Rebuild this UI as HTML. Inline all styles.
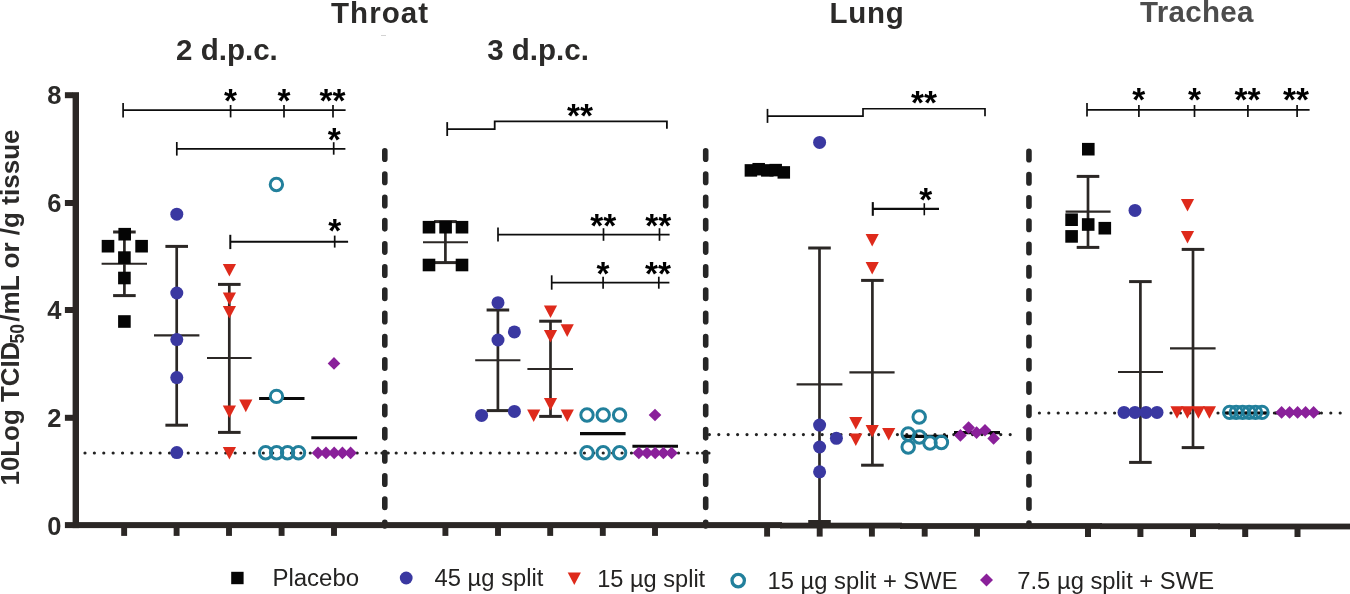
<!DOCTYPE html>
<html lang="en">
<head>
<meta charset="utf-8">
<title>Virus titres in throat, lung and trachea</title>
<style>
html,body{margin:0;padding:0;background:#ffffff;}
body{width:1350px;height:594px;overflow:hidden;}
svg{display:block;font-family:"Liberation Sans",sans-serif;will-change:transform;}
</style>
</head>
<body>
<svg width="1350" height="594" viewBox="0 0 1350 594">
<rect x="0" y="0" width="1350" height="594" fill="#ffffff"/>
<line x1="85" y1="453" x2="380" y2="453" stroke="#222222" stroke-width="3.2" stroke-linecap="round" stroke-dasharray="0 9.385"/>
<line x1="396.2" y1="453" x2="700" y2="453" stroke="#222222" stroke-width="3.2" stroke-linecap="round" stroke-dasharray="0 9.41"/>
<circle cx="382" cy="453" r="1.6" fill="#222222"/>
<circle cx="388.2" cy="453" r="1.6" fill="#222222"/>
<circle cx="702.7" cy="453" r="1.6" fill="#222222"/>
<circle cx="709" cy="453" r="1.6" fill="#222222"/>
<line x1="709.4" y1="434.6" x2="1019" y2="434.6" stroke="#222222" stroke-width="3.2" stroke-linecap="round" stroke-dasharray="0 9.4"/>
<line x1="1039.4" y1="413" x2="1341" y2="413" stroke="#222222" stroke-width="3.2" stroke-linecap="round" stroke-dasharray="0 9.4"/>
<line x1="384.8" y1="150.8" x2="384.8" y2="526" stroke="#262626" stroke-width="5.6" stroke-linecap="round" stroke-dasharray="8.4 14.82"/>
<line x1="705.7" y1="150.8" x2="705.7" y2="526" stroke="#262626" stroke-width="5.6" stroke-linecap="round" stroke-dasharray="8.4 14.82"/>
<line x1="1028.95" y1="151.4" x2="1028.95" y2="526" stroke="#262626" stroke-width="5.6" stroke-linecap="round" stroke-dasharray="8.4 14.83"/>
<rect x="72.6" y="92.2" width="6.4" height="435.9" fill="#2b2725"/>
<rect x="64.9" y="92.2" width="8.1" height="6" fill="#2b2725"/>
<rect x="64.9" y="200" width="8.1" height="6" fill="#2b2725"/>
<rect x="64.9" y="307" width="8.1" height="6" fill="#2b2725"/>
<rect x="64.9" y="414.8" width="8.1" height="6" fill="#2b2725"/>
<rect x="64.9" y="522.1" width="717.1" height="6" fill="#2b2725"/>
<rect x="780" y="522.7" width="122" height="5.8" fill="#2b2725"/>
<rect x="900" y="523.1" width="202" height="5.8" fill="#2b2725"/>
<rect x="1100" y="523.3" width="120" height="5.8" fill="#2b2725"/>
<rect x="1218" y="523.6" width="132" height="5.8" fill="#2b2725"/>
<rect x="121.2" y="526" width="5.9" height="9.9" fill="#2b2725"/>
<rect x="173.65" y="526" width="5.9" height="9.9" fill="#2b2725"/>
<rect x="226.05" y="526" width="5.9" height="9.9" fill="#2b2725"/>
<rect x="278.65" y="526" width="5.9" height="9.9" fill="#2b2725"/>
<rect x="331.05" y="526" width="5.9" height="9.9" fill="#2b2725"/>
<rect x="442.45" y="526" width="5.9" height="9.9" fill="#2b2725"/>
<rect x="495.05" y="526" width="5.9" height="9.9" fill="#2b2725"/>
<rect x="547.25" y="526" width="5.9" height="9.9" fill="#2b2725"/>
<rect x="599.85" y="526" width="5.9" height="9.9" fill="#2b2725"/>
<rect x="652.05" y="526" width="5.9" height="9.9" fill="#2b2725"/>
<rect x="764.15" y="526" width="5.9" height="10.6" fill="#2b2725"/>
<rect x="816.75" y="526" width="5.9" height="10.6" fill="#2b2725"/>
<rect x="868.95" y="526" width="5.9" height="10.6" fill="#2b2725"/>
<rect x="921.75" y="526" width="5.9" height="10.6" fill="#2b2725"/>
<rect x="974.05" y="526" width="5.9" height="10.6" fill="#2b2725"/>
<rect x="1085" y="527" width="6" height="10" fill="#2b2725"/>
<rect x="1137.4" y="527" width="6" height="10" fill="#2b2725"/>
<rect x="1190" y="527" width="6" height="10" fill="#2b2725"/>
<rect x="1242.2" y="527" width="6" height="10" fill="#2b2725"/>
<rect x="1294.5" y="527" width="6" height="10" fill="#2b2725"/>
<text x="61.4" y="104.3" font-size="25.5" font-weight="bold" fill="#2b2a29" text-anchor="end">8</text>
<text x="61.4" y="212.1" font-size="25.5" font-weight="bold" fill="#2b2a29" text-anchor="end">6</text>
<text x="61.4" y="319.1" font-size="25.5" font-weight="bold" fill="#2b2a29" text-anchor="end">4</text>
<text x="61.4" y="426.9" font-size="25.5" font-weight="bold" fill="#2b2a29" text-anchor="end">2</text>
<text x="61.4" y="534.5" font-size="25.5" font-weight="bold" fill="#2b2a29" text-anchor="end">0</text>
<text x="331" y="23" font-size="29.5" font-weight="bold" fill="#2b2a29" text-anchor="start" textLength="97.1" lengthAdjust="spacing">Throat</text>
<text x="829.5" y="23" font-size="29.5" font-weight="bold" fill="#2b2a29" text-anchor="start" textLength="74.3" lengthAdjust="spacing">Lung</text>
<text x="1140" y="22" font-size="29.5" font-weight="bold" fill="#4c4c4c" text-anchor="start" textLength="113.5" lengthAdjust="spacing">Trachea</text>
<text x="176.1" y="59.6" font-size="29.5" font-weight="bold" fill="#2b2a29" text-anchor="start">2 d.p.c.</text>
<text x="487.2" y="59.6" font-size="29.5" font-weight="bold" fill="#2b2a29" text-anchor="start">3 d.p.c.</text>
<rect x="381" y="35" width="5" height="0.9" fill="#cfcfcf"/>
<text transform="translate(19.0 485.5) rotate(-90)" font-size="26.3" font-weight="bold" fill="#2b2a29" textLength="143.8" lengthAdjust="spacingAndGlyphs">10Log TCID</text>
<text transform="translate(24.4 343.4) rotate(-90) scale(0.86 1)" font-size="20.3" font-weight="bold" fill="#2b2a29">50</text>
<text transform="translate(19.0 321.7) rotate(-90)" font-size="26.3" font-weight="bold" fill="#2b2a29" textLength="192.3" lengthAdjust="spacingAndGlyphs">/mL or /g tissue</text>
<line x1="123.1" y1="110.1" x2="345.6" y2="110.1" stroke="#0d0d0d" stroke-width="1.7"/>
<line x1="123.1" y1="103.1" x2="123.1" y2="117.6" stroke="#0d0d0d" stroke-width="1.7"/>
<line x1="230.6" y1="105" x2="230.6" y2="117.4" stroke="#0d0d0d" stroke-width="1.7"/>
<line x1="284" y1="105" x2="284" y2="117.4" stroke="#0d0d0d" stroke-width="1.7"/>
<line x1="333" y1="105" x2="333" y2="117.4" stroke="#0d0d0d" stroke-width="1.7"/>
<text transform="translate(230.6 112.014) scale(0.955 0.935)" font-size="35" font-weight="bold" fill="#000" text-anchor="middle">*</text>
<text transform="translate(284 112.014) scale(0.955 0.935)" font-size="35" font-weight="bold" fill="#000" text-anchor="middle">*</text>
<text transform="translate(332.6 112.014) scale(0.955 0.935)" font-size="35" font-weight="bold" fill="#000" text-anchor="middle">**</text>
<line x1="176.8" y1="148.8" x2="345.4" y2="148.8" stroke="#0d0d0d" stroke-width="1.7"/>
<line x1="176.8" y1="142" x2="176.8" y2="155.6" stroke="#0d0d0d" stroke-width="1.7"/>
<line x1="333.7" y1="142.2" x2="333.7" y2="154.7" stroke="#0d0d0d" stroke-width="1.7"/>
<text transform="translate(334.2 150.914) scale(0.955 0.935)" font-size="35" font-weight="bold" fill="#000" text-anchor="middle">*</text>
<line x1="230.3" y1="241.8" x2="348.1" y2="241.8" stroke="#0d0d0d" stroke-width="2"/>
<line x1="230.3" y1="234.8" x2="230.3" y2="249.1" stroke="#0d0d0d" stroke-width="2"/>
<line x1="334.7" y1="235.6" x2="334.7" y2="247.6" stroke="#0d0d0d" stroke-width="1.7"/>
<text transform="translate(334.8 242.414) scale(0.955 0.935)" font-size="35" font-weight="bold" fill="#000" text-anchor="middle">*</text>
<line x1="447.2" y1="122.1" x2="447.2" y2="136" stroke="#0d0d0d" stroke-width="1.8"/>
<polyline points="447.2,129.2 494.7,129.2 494.7,121.4 666.9,121.4 666.9,128.7" fill="none" stroke="#0d0d0d" stroke-width="1.8" stroke-linejoin="miter"/>
<text transform="translate(580 127.414) scale(0.955 0.935)" font-size="35" font-weight="bold" fill="#000" text-anchor="middle">**</text>
<line x1="498" y1="234.6" x2="669.6" y2="234.6" stroke="#0d0d0d" stroke-width="1.7"/>
<line x1="498" y1="227.5" x2="498" y2="241.6" stroke="#0d0d0d" stroke-width="1.7"/>
<line x1="603.5" y1="228.2" x2="603.5" y2="240.8" stroke="#0d0d0d" stroke-width="1.7"/>
<line x1="659.5" y1="228.2" x2="659.5" y2="240.8" stroke="#0d0d0d" stroke-width="1.7"/>
<text transform="translate(603.3 236.914) scale(0.955 0.935)" font-size="35" font-weight="bold" fill="#000" text-anchor="middle">**</text>
<text transform="translate(658.3 236.914) scale(0.955 0.935)" font-size="35" font-weight="bold" fill="#000" text-anchor="middle">**</text>
<line x1="551.7" y1="282.7" x2="669.4" y2="282.7" stroke="#0d0d0d" stroke-width="1.7"/>
<line x1="551.7" y1="275.3" x2="551.7" y2="289.7" stroke="#0d0d0d" stroke-width="1.7"/>
<line x1="603.1" y1="276.7" x2="603.1" y2="288.7" stroke="#0d0d0d" stroke-width="1.7"/>
<line x1="658.8" y1="276.7" x2="658.8" y2="288.7" stroke="#0d0d0d" stroke-width="1.7"/>
<text transform="translate(603.1 284.814) scale(0.955 0.935)" font-size="35" font-weight="bold" fill="#000" text-anchor="middle">*</text>
<text transform="translate(657.9 284.814) scale(0.955 0.935)" font-size="35" font-weight="bold" fill="#000" text-anchor="middle">**</text>
<line x1="767.5" y1="108.9" x2="767.5" y2="122.9" stroke="#0d0d0d" stroke-width="1.7"/>
<polyline points="767.5,116.1 863,116.1 863,108.75 985,108.75 985,116.2" fill="none" stroke="#0d0d0d" stroke-width="1.7" stroke-linejoin="miter"/>
<text transform="translate(924 114.014) scale(0.955 0.935)" font-size="35" font-weight="bold" fill="#000" text-anchor="middle">**</text>
<line x1="872.8" y1="208.9" x2="939" y2="208.9" stroke="#0d0d0d" stroke-width="2.1"/>
<line x1="872.8" y1="202.1" x2="872.8" y2="215.8" stroke="#0d0d0d" stroke-width="2.1"/>
<line x1="924.3" y1="203.2" x2="924.3" y2="215.3" stroke="#0d0d0d" stroke-width="1.6"/>
<text transform="translate(925.7 210.914) scale(0.955 0.935)" font-size="35" font-weight="bold" fill="#000" text-anchor="middle">*</text>
<line x1="1087" y1="109.85" x2="1309.6" y2="109.85" stroke="#0d0d0d" stroke-width="1.7"/>
<line x1="1087" y1="103.1" x2="1087" y2="116.6" stroke="#0d0d0d" stroke-width="1.7"/>
<line x1="1138.9" y1="105" x2="1138.9" y2="117" stroke="#0d0d0d" stroke-width="1.7"/>
<line x1="1194.5" y1="105" x2="1194.5" y2="117" stroke="#0d0d0d" stroke-width="1.7"/>
<line x1="1247.9" y1="105" x2="1247.9" y2="117" stroke="#0d0d0d" stroke-width="1.7"/>
<line x1="1297.1" y1="105" x2="1297.1" y2="117" stroke="#0d0d0d" stroke-width="1.7"/>
<text transform="translate(1138.7 111.414) scale(0.955 0.935)" font-size="35" font-weight="bold" fill="#000" text-anchor="middle">*</text>
<text transform="translate(1194.4 111.414) scale(0.955 0.935)" font-size="35" font-weight="bold" fill="#000" text-anchor="middle">*</text>
<text transform="translate(1247.6 110.614) scale(0.955 0.935)" font-size="35" font-weight="bold" fill="#000" text-anchor="middle">**</text>
<text transform="translate(1296 110.614) scale(0.955 0.935)" font-size="35" font-weight="bold" fill="#000" text-anchor="middle">**</text>
<line x1="124.4" y1="232" x2="124.4" y2="295.6" stroke="#2b2725" stroke-width="2.7"/>
<line x1="113.1" y1="232" x2="135.7" y2="232" stroke="#2b2725" stroke-width="3"/>
<line x1="113.1" y1="295.6" x2="135.7" y2="295.6" stroke="#2b2725" stroke-width="3"/>
<line x1="101.6" y1="263.8" x2="147" y2="263.8" stroke="#2b2725" stroke-width="2.1"/>
<rect x="101.7" y="239.9" width="12.6" height="12.6" fill="#050505"/>
<rect x="135.3" y="239.9" width="12.6" height="12.6" fill="#050505"/>
<rect x="118.4" y="227.9" width="12.6" height="12.6" fill="#050505"/>
<rect x="118.1" y="251.3" width="12.6" height="12.6" fill="#050505"/>
<rect x="118.1" y="271.7" width="12.6" height="12.6" fill="#050505"/>
<rect x="118.1" y="315.2" width="12.6" height="12.6" fill="#050505"/>
<line x1="176.7" y1="246.4" x2="176.7" y2="425.2" stroke="#2b2725" stroke-width="2.7"/>
<line x1="165.4" y1="246.4" x2="188" y2="246.4" stroke="#2b2725" stroke-width="3"/>
<line x1="165.4" y1="425.2" x2="188" y2="425.2" stroke="#2b2725" stroke-width="3"/>
<line x1="154" y1="335.4" x2="199.4" y2="335.4" stroke="#2b2725" stroke-width="2.1"/>
<circle cx="176.8" cy="214.2" r="6.5" fill="#3a38a1"/>
<circle cx="176.8" cy="293" r="6.5" fill="#3a38a1"/>
<circle cx="176.8" cy="339.6" r="6.5" fill="#3a38a1"/>
<circle cx="176.8" cy="377.6" r="6.5" fill="#3a38a1"/>
<circle cx="176.8" cy="452.6" r="6.5" fill="#3a38a1"/>
<line x1="229.3" y1="284.4" x2="229.3" y2="432.4" stroke="#2b2725" stroke-width="2.7"/>
<line x1="218" y1="284.4" x2="240.6" y2="284.4" stroke="#2b2725" stroke-width="3"/>
<line x1="218" y1="432.4" x2="240.6" y2="432.4" stroke="#2b2725" stroke-width="3"/>
<line x1="207" y1="358" x2="251.6" y2="358" stroke="#2b2725" stroke-width="2.1"/>
<polygon points="222.8,264 236,264 229.4,276.6" fill="#de2a1b"/>
<polygon points="222.8,292.4 236,292.4 229.4,305" fill="#de2a1b"/>
<polygon points="222.8,306 236,306 229.4,318.6" fill="#de2a1b"/>
<polygon points="222.8,405.4 236,405.4 229.4,418" fill="#de2a1b"/>
<polygon points="239.2,399.6 252.4,399.6 245.8,412.2" fill="#de2a1b"/>
<polygon points="222.8,447 236,447 229.4,459.6" fill="#de2a1b"/>
<line x1="259.1" y1="398.5" x2="304.5" y2="398.5" stroke="#0a0a0a" stroke-width="3.1"/>
<circle cx="276.4" cy="184.5" r="6.2" fill="none" stroke="#22809c" stroke-width="3"/>
<circle cx="276.5" cy="396.4" r="6.2" fill="#ffffff" stroke="#22809c" stroke-width="3"/>
<circle cx="265.65" cy="452.8" r="6.2" fill="none" stroke="#22809c" stroke-width="3"/>
<circle cx="276.6" cy="452.8" r="6.2" fill="none" stroke="#22809c" stroke-width="3"/>
<circle cx="287.55" cy="452.8" r="6.2" fill="none" stroke="#22809c" stroke-width="3"/>
<circle cx="298.5" cy="452.8" r="6.2" fill="none" stroke="#22809c" stroke-width="3"/>
<line x1="311.3" y1="437.8" x2="357.1" y2="437.8" stroke="#0a0a0a" stroke-width="3.1"/>
<polygon points="327.7,363.4 334,357.1 340.3,363.4 334,369.7" fill="#8a209a"/>
<polygon points="311.7,452.9 318,446.6 324.3,452.9 318,459.2" fill="#8a209a"/>
<polygon points="319.7,452.9 326,446.6 332.3,452.9 326,459.2" fill="#8a209a"/>
<polygon points="327.9,452.9 334.2,446.6 340.5,452.9 334.2,459.2" fill="#8a209a"/>
<polygon points="336.1,452.9 342.4,446.6 348.7,452.9 342.4,459.2" fill="#8a209a"/>
<polygon points="344.3,452.9 350.6,446.6 356.9,452.9 350.6,459.2" fill="#8a209a"/>
<line x1="445.4" y1="221.6" x2="445.4" y2="262.6" stroke="#2b2725" stroke-width="2.7"/>
<line x1="434.1" y1="221.6" x2="456.7" y2="221.6" stroke="#2b2725" stroke-width="3"/>
<line x1="434.1" y1="262.6" x2="456.7" y2="262.6" stroke="#2b2725" stroke-width="3"/>
<line x1="423" y1="242.2" x2="468" y2="242.2" stroke="#2b2725" stroke-width="2.1"/>
<rect x="422.7" y="220.9" width="12.6" height="12.6" fill="#050505"/>
<rect x="439.3" y="220.9" width="12.6" height="12.6" fill="#050505"/>
<rect x="455.7" y="220.9" width="12.6" height="12.6" fill="#050505"/>
<rect x="422.7" y="258.7" width="12.6" height="12.6" fill="#050505"/>
<rect x="455.7" y="258.7" width="12.6" height="12.6" fill="#050505"/>
<line x1="497.9" y1="310" x2="497.9" y2="410.6" stroke="#2b2725" stroke-width="2.7"/>
<line x1="486.6" y1="310" x2="509.2" y2="310" stroke="#2b2725" stroke-width="3"/>
<line x1="486.6" y1="410.6" x2="509.2" y2="410.6" stroke="#2b2725" stroke-width="3"/>
<line x1="475.2" y1="360.2" x2="520.4" y2="360.2" stroke="#2b2725" stroke-width="2.1"/>
<circle cx="498" cy="302.7" r="6.5" fill="#3a38a1"/>
<circle cx="514.4" cy="331.9" r="6.5" fill="#3a38a1"/>
<circle cx="498" cy="340" r="6.5" fill="#3a38a1"/>
<circle cx="481.6" cy="415.4" r="6.5" fill="#3a38a1"/>
<circle cx="514.4" cy="411.4" r="6.5" fill="#3a38a1"/>
<line x1="550.5" y1="321.2" x2="550.5" y2="416.4" stroke="#2b2725" stroke-width="2.7"/>
<line x1="539.2" y1="321.2" x2="561.8" y2="321.2" stroke="#2b2725" stroke-width="3"/>
<line x1="539.2" y1="416.4" x2="561.8" y2="416.4" stroke="#2b2725" stroke-width="3"/>
<line x1="527.4" y1="369" x2="573" y2="369" stroke="#2b2725" stroke-width="2.1"/>
<polygon points="543.9,305.4 557.1,305.4 550.5,318" fill="#de2a1b"/>
<polygon points="560.6,324.3 573.8,324.3 567.2,336.9" fill="#de2a1b"/>
<polygon points="543.9,330 557.1,330 550.5,342.6" fill="#de2a1b"/>
<polygon points="543.9,398 557.1,398 550.5,410.6" fill="#de2a1b"/>
<polygon points="527.1,409.4 540.3,409.4 533.7,422" fill="#de2a1b"/>
<polygon points="560.7,409.4 573.9,409.4 567.3,422" fill="#de2a1b"/>
<line x1="580" y1="433.6" x2="625.6" y2="433.6" stroke="#0a0a0a" stroke-width="3.1"/>
<circle cx="587" cy="415" r="6.2" fill="none" stroke="#22809c" stroke-width="3"/>
<circle cx="587" cy="452.8" r="6.2" fill="none" stroke="#22809c" stroke-width="3"/>
<circle cx="603.2" cy="415" r="6.2" fill="none" stroke="#22809c" stroke-width="3"/>
<circle cx="603.2" cy="452.8" r="6.2" fill="none" stroke="#22809c" stroke-width="3"/>
<circle cx="619.6" cy="415" r="6.2" fill="none" stroke="#22809c" stroke-width="3"/>
<circle cx="619.6" cy="452.8" r="6.2" fill="none" stroke="#22809c" stroke-width="3"/>
<line x1="632.4" y1="446.2" x2="678" y2="446.2" stroke="#0a0a0a" stroke-width="3.1"/>
<polygon points="648.7,415 655,408.7 661.3,415 655,421.3" fill="#8a209a"/>
<polygon points="632.5,453 638.8,446.7 645.1,453 638.8,459.3" fill="#8a209a"/>
<polygon points="640.7,453 647,446.7 653.3,453 647,459.3" fill="#8a209a"/>
<polygon points="648.9,453 655.2,446.7 661.5,453 655.2,459.3" fill="#8a209a"/>
<polygon points="657.1,453 663.4,446.7 669.7,453 663.4,459.3" fill="#8a209a"/>
<polygon points="665.3,453 671.6,446.7 677.9,453 671.6,459.3" fill="#8a209a"/>
<rect x="744.65" y="164.15" width="12.5" height="12.5" fill="#050505"/>
<rect x="752.45" y="162.95" width="12.5" height="12.5" fill="#050505"/>
<rect x="761.05" y="164.15" width="12.5" height="12.5" fill="#050505"/>
<rect x="769.45" y="163.85" width="12.5" height="12.5" fill="#050505"/>
<rect x="777.55" y="166.15" width="12.5" height="12.5" fill="#050505"/>
<line x1="819.5" y1="248" x2="819.5" y2="521.5" stroke="#2b2725" stroke-width="2.7"/>
<line x1="808.2" y1="248" x2="830.8" y2="248" stroke="#2b2725" stroke-width="3"/>
<line x1="808.2" y1="521.5" x2="830.8" y2="521.5" stroke="#2b2725" stroke-width="3"/>
<line x1="796.6" y1="384.4" x2="842.4" y2="384.4" stroke="#2b2725" stroke-width="2.1"/>
<circle cx="819.6" cy="142.4" r="6.5" fill="#3a38a1"/>
<circle cx="819.6" cy="425.1" r="6.5" fill="#3a38a1"/>
<circle cx="836.4" cy="438.3" r="6.5" fill="#3a38a1"/>
<circle cx="819.6" cy="447" r="6.5" fill="#3a38a1"/>
<circle cx="819.6" cy="471.8" r="6.5" fill="#3a38a1"/>
<line x1="872.4" y1="280.4" x2="872.4" y2="465.2" stroke="#2b2725" stroke-width="2.7"/>
<line x1="861.1" y1="280.4" x2="883.7" y2="280.4" stroke="#2b2725" stroke-width="3"/>
<line x1="861.1" y1="465.2" x2="883.7" y2="465.2" stroke="#2b2725" stroke-width="3"/>
<line x1="849.4" y1="372.4" x2="894.6" y2="372.4" stroke="#2b2725" stroke-width="2.1"/>
<polygon points="865.6,234 878.8,234 872.2,246.6" fill="#de2a1b"/>
<polygon points="865.6,262 878.8,262 872.2,274.6" fill="#de2a1b"/>
<polygon points="849.2,417 862.4,417 855.8,429.6" fill="#de2a1b"/>
<polygon points="865.6,425 878.8,425 872.2,437.6" fill="#de2a1b"/>
<polygon points="882.1,428 895.3,428 888.7,440.6" fill="#de2a1b"/>
<polygon points="849.2,433.4 862.4,433.4 855.8,446" fill="#de2a1b"/>
<line x1="903" y1="436.4" x2="948" y2="436.4" stroke="#0a0a0a" stroke-width="3.1"/>
<circle cx="919.2" cy="417" r="6.25" fill="none" stroke="#22809c" stroke-width="3"/>
<circle cx="908.2" cy="434" r="6.25" fill="none" stroke="#22809c" stroke-width="3"/>
<circle cx="919.4" cy="437" r="6.25" fill="none" stroke="#22809c" stroke-width="3"/>
<circle cx="908.2" cy="447" r="6.25" fill="none" stroke="#22809c" stroke-width="3"/>
<circle cx="930" cy="443" r="6.25" fill="none" stroke="#22809c" stroke-width="3"/>
<circle cx="941.4" cy="442.4" r="6.25" fill="none" stroke="#22809c" stroke-width="3"/>
<line x1="954" y1="432.6" x2="1000" y2="432.6" stroke="#0a0a0a" stroke-width="3.1"/>
<polygon points="954.1,435.4 960.4,429.1 966.7,435.4 960.4,441.7" fill="#8a209a"/>
<polygon points="962.3,427.6 968.6,421.3 974.9,427.6 968.6,433.9" fill="#8a209a"/>
<polygon points="970.3,432.6 976.6,426.3 982.9,432.6 976.6,438.9" fill="#8a209a"/>
<polygon points="978.7,430.2 985,423.9 991.3,430.2 985,436.5" fill="#8a209a"/>
<polygon points="987.3,438.4 993.6,432.1 999.9,438.4 993.6,444.7" fill="#8a209a"/>
<line x1="1088" y1="176.4" x2="1088" y2="247.4" stroke="#2b2725" stroke-width="2.7"/>
<line x1="1076.7" y1="176.4" x2="1099.3" y2="176.4" stroke="#2b2725" stroke-width="3"/>
<line x1="1076.7" y1="247.4" x2="1099.3" y2="247.4" stroke="#2b2725" stroke-width="3"/>
<line x1="1065.6" y1="211.6" x2="1110.6" y2="211.6" stroke="#2b2725" stroke-width="2.1"/>
<rect x="1082" y="142.9" width="12.6" height="12.6" fill="#050505"/>
<rect x="1065.3" y="213.4" width="12.6" height="12.6" fill="#050505"/>
<rect x="1065.3" y="230.1" width="12.6" height="12.6" fill="#050505"/>
<rect x="1081.9" y="218.2" width="12.6" height="12.6" fill="#050505"/>
<rect x="1098.5" y="221.9" width="12.6" height="12.6" fill="#050505"/>
<line x1="1140.4" y1="281.6" x2="1140.4" y2="462.4" stroke="#2b2725" stroke-width="2.7"/>
<line x1="1129.1" y1="281.6" x2="1151.7" y2="281.6" stroke="#2b2725" stroke-width="3"/>
<line x1="1129.1" y1="462.4" x2="1151.7" y2="462.4" stroke="#2b2725" stroke-width="3"/>
<line x1="1118" y1="372" x2="1163" y2="372" stroke="#2b2725" stroke-width="2.1"/>
<circle cx="1135" cy="210.4" r="6.5" fill="#3a38a1"/>
<circle cx="1124" cy="412.4" r="6.5" fill="#3a38a1"/>
<circle cx="1135" cy="412.4" r="6.5" fill="#3a38a1"/>
<circle cx="1146" cy="412.4" r="6.5" fill="#3a38a1"/>
<circle cx="1157" cy="412.4" r="6.5" fill="#3a38a1"/>
<line x1="1193" y1="249.4" x2="1193" y2="447.6" stroke="#2b2725" stroke-width="2.7"/>
<line x1="1181.7" y1="249.4" x2="1204.3" y2="249.4" stroke="#2b2725" stroke-width="3"/>
<line x1="1181.7" y1="447.6" x2="1204.3" y2="447.6" stroke="#2b2725" stroke-width="3"/>
<line x1="1170" y1="348.4" x2="1215.6" y2="348.4" stroke="#2b2725" stroke-width="2.1"/>
<polygon points="1180.9,199 1194.1,199 1187.5,211.6" fill="#de2a1b"/>
<polygon points="1180.9,231 1194.1,231 1187.5,243.6" fill="#de2a1b"/>
<polygon points="1170.4,406.2 1183.6,406.2 1177,418.8" fill="#de2a1b"/>
<polygon points="1180.8,406.2 1194,406.2 1187.4,418.8" fill="#de2a1b"/>
<polygon points="1191.8,406.2 1205,406.2 1198.4,418.8" fill="#de2a1b"/>
<polygon points="1202.8,406.2 1216,406.2 1209.4,418.8" fill="#de2a1b"/>
<line x1="1223.5" y1="413" x2="1268.5" y2="413" stroke="#0a0a0a" stroke-width="3.1"/>
<circle cx="1229.7" cy="412.4" r="6.2" fill="none" stroke="#22809c" stroke-width="3"/>
<circle cx="1236.2" cy="412.4" r="6.2" fill="none" stroke="#22809c" stroke-width="3"/>
<circle cx="1242.6" cy="412.4" r="6.2" fill="none" stroke="#22809c" stroke-width="3"/>
<circle cx="1249.1" cy="412.4" r="6.2" fill="none" stroke="#22809c" stroke-width="3"/>
<circle cx="1255.5" cy="412.4" r="6.2" fill="none" stroke="#22809c" stroke-width="3"/>
<circle cx="1262" cy="412.4" r="6.2" fill="none" stroke="#22809c" stroke-width="3"/>
<line x1="1275" y1="413" x2="1320" y2="413" stroke="#0a0a0a" stroke-width="3.1"/>
<polygon points="1275.3,412.4 1281.6,406.1 1287.9,412.4 1281.6,418.7" fill="#8a209a"/>
<polygon points="1283.3,412.4 1289.6,406.1 1295.9,412.4 1289.6,418.7" fill="#8a209a"/>
<polygon points="1291.3,412.4 1297.6,406.1 1303.9,412.4 1297.6,418.7" fill="#8a209a"/>
<polygon points="1299.3,412.4 1305.6,406.1 1311.9,412.4 1305.6,418.7" fill="#8a209a"/>
<polygon points="1307.3,412.4 1313.6,406.1 1319.9,412.4 1313.6,418.7" fill="#8a209a"/>
<rect x="231.2" y="571.8" width="12.4" height="12.4" fill="#050505"/>
<text x="272.4" y="586" font-size="23.5" font-weight="normal" fill="#242322" text-anchor="start" textLength="86.8" lengthAdjust="spacingAndGlyphs">Placebo</text>
<circle cx="406.2" cy="578" r="6.4" fill="#3a38a1"/>
<text x="434.6" y="586" font-size="23.5" font-weight="normal" fill="#242322" text-anchor="start" textLength="108.8" lengthAdjust="spacingAndGlyphs">45 µg split</text>
<polygon points="567.7,572.4 580.9,572.4 574.3,585" fill="#de2a1b"/>
<text x="597.2" y="586.6" font-size="23.5" font-weight="normal" fill="#242322" text-anchor="start" textLength="108" lengthAdjust="spacingAndGlyphs">15 µg split</text>
<circle cx="738.2" cy="580.6" r="6.2" fill="none" stroke="#22809c" stroke-width="3.3"/>
<text x="767.5" y="589.3" font-size="23.5" font-weight="normal" fill="#242322" text-anchor="start" textLength="190" lengthAdjust="spacingAndGlyphs">15 µg split + SWE</text>
<polygon points="980,580.1 986.5,573.6 993,580.1 986.5,586.6" fill="#8a209a"/>
<text x="1017.3" y="589.2" font-size="23.5" font-weight="normal" fill="#242322" text-anchor="start" textLength="196.7" lengthAdjust="spacingAndGlyphs">7.5 µg split + SWE</text>
</svg>
</body>
</html>
